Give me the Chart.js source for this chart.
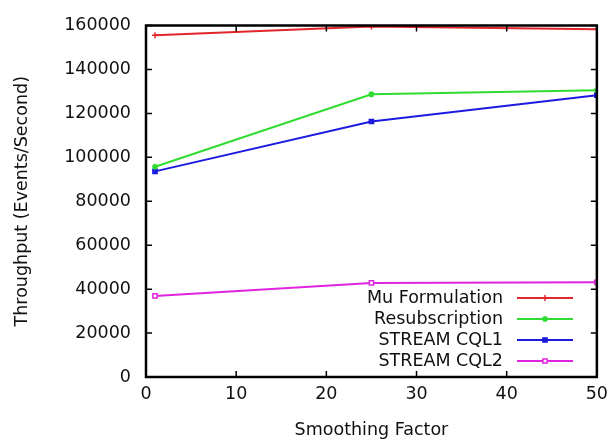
<!DOCTYPE html>
<html>
<head>
<meta charset="utf-8">
<script src="https://cdn.jsdelivr.net/npm/chart.js@4"></script>
<style>
  html, body { margin: 0; padding: 0; background: #fff; }
  #wrap { width: 615px; height: 441px; }
</style>
</head>
<body>
<div id="wrap"><canvas id="throughputChart"></canvas></div>
<script>
const smoothing = [1, 25, 50];
const muFormulation = [155600, 159500, 158300];
const resubscription = [95700, 128700, 130500];
const streamCql1 = [93600, 116300, 128300];
const streamCql2 = [36900, 42800, 43100];
const seriesNames = ['Mu Formulation', 'Resubscription', 'STREAM CQL1', 'STREAM CQL2'];
const xTicks = [0, 10, 20, 30, 40, 50];
const yTicks = [0, 20000, 40000, 60000, 80000, 100000, 120000, 140000, 160000];

const FONT = '"DejaVu Sans", "Liberation Sans", Arial, sans-serif';
const FONT_SIZE = 17.5;

function toPoints(values) {
    return values.map((v, i) => ({ x: smoothing[i], y: v }));
}

// gnuplot style frame, inward mirrored ticks and key in the lower right
const gnuplotLook = {
    id: 'gnuplotLook',
    afterDraw(chart) {
        const ctx = chart.ctx;
        const area = chart.chartArea;
        const xs = chart.scales.x;
        const ys = chart.scales.y;
        ctx.save();
        ctx.strokeStyle = '#000';
        ctx.lineWidth = 1.5;
        ctx.beginPath();
        xTicks.forEach(t => {
            const px = xs.getPixelForValue(t);
            ctx.moveTo(px, area.bottom); ctx.lineTo(px, area.bottom - 6);
            ctx.moveTo(px, area.top); ctx.lineTo(px, area.top + 6);
        });
        yTicks.forEach(t => {
            const py = ys.getPixelForValue(t);
            ctx.moveTo(area.left, py); ctx.lineTo(area.left + 6, py);
            ctx.moveTo(area.right, py); ctx.lineTo(area.right - 6, py);
        });
        ctx.stroke();
        ctx.lineWidth = 2.5;
        ctx.strokeRect(area.left, area.top, area.right - area.left, area.bottom - area.top);

        // key
        ctx.font = FONT_SIZE + 'px ' + FONT;
        ctx.textAlign = 'right';
        ctx.textBaseline = 'middle';
        chart.data.datasets.forEach((ds, i) => {
            const y = 298 + i * 21;
            ctx.fillStyle = '#111';
            ctx.fillText(ds.label, 503, y);
            ctx.strokeStyle = ds.borderColor;
            ctx.lineWidth = 2;
            ctx.beginPath();
            ctx.moveTo(517, y); ctx.lineTo(573, y);
            ctx.stroke();
            ctx.fillStyle = ds.pointBackgroundColor;
            ctx.lineWidth = ds.pointBorderWidth;
            Chart.helpers.drawPoint(ctx, {
                pointStyle: ds.pointStyle,
                radius: ds.pointRadius,
                rotation: 0,
                borderWidth: ds.pointBorderWidth
            }, 545, y);
        });
        ctx.restore();
    }
};

function series(label, values, color, style, fill) {
    return {
        label: label,
        data: toPoints(values),
        borderColor: color,
        backgroundColor: color,
        pointBackgroundColor: fill,
        pointBorderColor: color,
        pointStyle: style,
        pointRadius: 3,
        pointBorderWidth: 1.5,
        borderWidth: 2,
        tension: 0
    };
}

const ctx = document.getElementById('throughputChart').getContext('2d');
const throughputChart = new Chart(ctx, {
    type: 'line',
    data: {
        datasets: [
            series(seriesNames[0], muFormulation, '#e3262b', 'cross', '#e3262b'),
            series(seriesNames[1], resubscription, '#2fdc2f', 'star', '#2fdc2f'),
            series(seriesNames[2], streamCql1, '#1c1ce0', 'rect', '#1c1ce0'),
            series(seriesNames[3], streamCql2, '#e024e0', 'rect', '#ffffff')
        ]
    },
    options: {
        responsive: true,
        maintainAspectRatio: false,
        animation: false,
        layout: { padding: { left: 0, right: 15, top: 21, bottom: 0 } },
        plugins: {
            legend: { display: false },
            tooltip: { enabled: false }
        },
        scales: {
            x: {
                type: 'linear',
                min: 0,
                max: 50,
                afterBuildTicks: s => { s.ticks = xTicks.map(v => ({ value: v })); },
                afterFit: s => { s.height = 64; },
                grid: { display: false, drawTicks: false },
                border: { display: false },
                ticks: {
                    color: '#111',
                    padding: 7,
                    font: { family: FONT, size: FONT_SIZE },
                    callback: v => String(v)
                },
                title: {
                    display: true,
                    text: 'Smoothing Factor',
                    color: '#111',
                    padding: { top: 4, bottom: 0 },
                    font: { family: FONT, size: FONT_SIZE }
                }
            },
            y: {
                min: 0,
                max: 160000,
                afterBuildTicks: s => { s.ticks = yTicks.map(v => ({ value: v })); },
                afterFit: s => { s.width = 146; },
                grid: { display: false, drawTicks: false },
                border: { display: false },
                ticks: {
                    color: '#111',
                    padding: 15,
                    font: { family: FONT, size: FONT_SIZE },
                    callback: v => String(v)
                },
                title: {
                    display: true,
                    text: 'Throughput (Events/Second)',
                    color: '#111',
                    padding: { top: 12, bottom: 0 },
                    font: { family: FONT, size: FONT_SIZE }
                }
            }
        }
    },
    plugins: [gnuplotLook]
});
</script>
</body>
</html>
